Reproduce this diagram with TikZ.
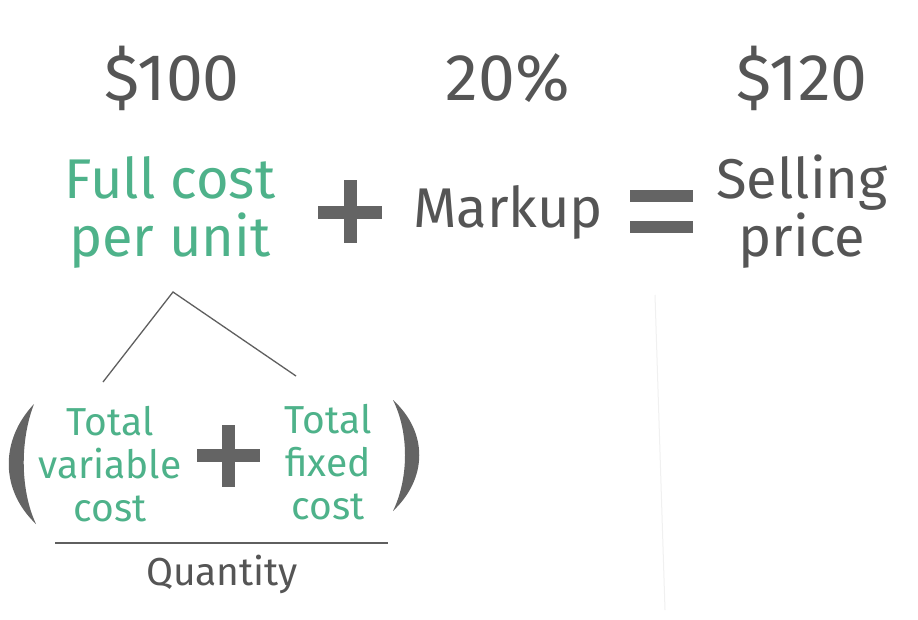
\documentclass[tikz,border=0pt]{standalone}
\usepackage{fontspec}
\setmainfont{Fira Sans}
\definecolor{tgreen}{RGB}{78,178,138}
\definecolor{tgray}{RGB}{85,85,85}
\definecolor{sgray}{RGB}{100,100,100}
\definecolor{lgray}{RGB}{95,95,95}
\begin{document}
\begin{tikzpicture}[x=1pt,y=-1pt,
  num/.style={text=tgray,font=\fontsize{66}{66}\selectfont,inner sep=0pt},
  big/.style={font=\fontsize{56}{58}\selectfont,align=center,inner sep=0pt},
  small/.style={font=\fontsize{39}{43}\selectfont,align=center,inner sep=0pt},
  conn/.style={draw=lgray,line width=1.3pt},
  opbar/.style={fill=sgray,draw=none}]
\useasboundingbox[fill=white] (0,0) rectangle (918,619);
% numbers
\node[num] (n100) at (172,78) {\$100};
\node[num] (n20) at (508,78) {20\%};
\node[num] (n120) at (802,78) {\$120};
% main terms
\node[big,text=tgreen] (full) at (170,212) {Full cost\\per unit};
\node[big,text=tgray] (markup) at (508,212) {Markup};
\node[big,text=tgray] (sell) at (802,212) {Selling\\price};
% big plus
\fill[opbar] (318,206) rectangle (382,219);
\fill[opbar] (343.5,180) rectangle (356.5,243);
% equals
\fill[opbar] (630,190) rectangle (693,202);
\fill[opbar] (630,221) rectangle (693,233);
% branch lines
\coordinate (apex) at (173,292);
\coordinate (lend) at (103,382);
\coordinate (rend) at (296,376);
\draw[conn] (lend) -- (apex) -- (rend);
% lower terms
\node[small,text=tgreen] (tvc) at (110,464) {Total\\variable\\cost};
\node[small,text=tgreen] (tfc) at (328,462) {Total\\fixed\\cost};
% small plus
\fill[opbar] (197,449) rectangle (260,462);
\fill[opbar] (222,425) rectangle (235,487);
% parentheses
\fill[sgray] (34,404) .. controls (0,440) and (0,490) .. (36,524)
  .. controls (20,490) and (20,440) .. (34,404) -- cycle;
\fill[sgray] (393,400) .. controls (428,432) and (428,478) .. (393,511)
  .. controls (409,478) and (409,432) .. (393,400) -- cycle;
% fraction bar
\coordinate (fl) at (55,543);
\coordinate (fr) at (388,543);
\draw[draw=lgray,line width=1.1pt] (fl) -- (fr);
\node[small,text=tgray] (qty) at (222,574) {Quantity};
% faint line
\coordinate (f1) at (655,295);
\coordinate (f2) at (665,610);
\draw[draw=black!6,line width=1pt] (f1) -- (f2);
\end{tikzpicture}
\end{document}
